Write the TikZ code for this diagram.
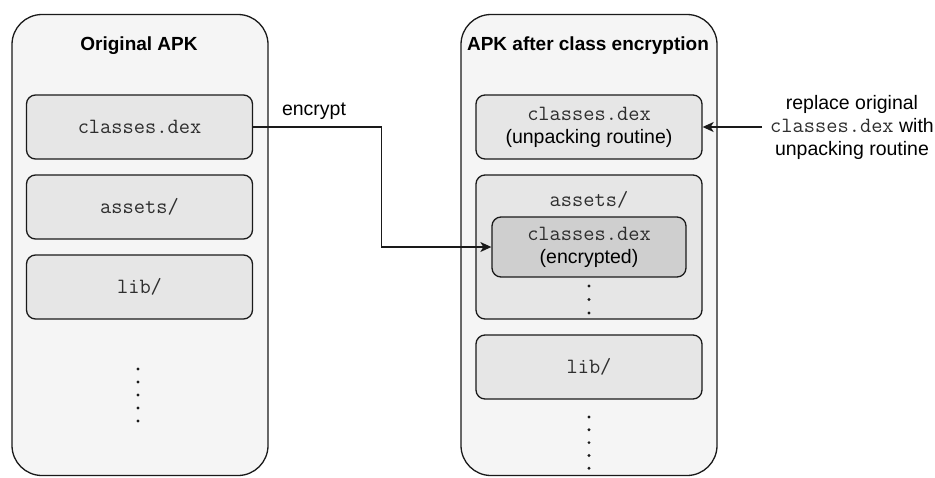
\documentclass[tikz,border=0pt]{standalone}
\usepackage{fontspec}
\setmainfont{Liberation Sans}
\usetikzlibrary{arrows.meta}
\definecolor{panelfill}{HTML}{F5F5F5}
\definecolor{boxfill}{HTML}{E6E6E6}
\definecolor{encfill}{HTML}{CFCFCF}
\definecolor{ink}{HTML}{1A1A1A}
\definecolor{codeink}{HTML}{2E2E2E}
\newcommand{\code}[1]{{\fontsize{21.8}{23}\selectfont\ttfamily\color{codeink}#1}}
\tikzset{
  panel/.style={draw=ink, line width=1.3pt, fill=panelfill, rounded corners=30pt,
    minimum width=256pt, minimum height=461pt, inner sep=0pt},
  filebox/.style={draw=ink, line width=1.3pt, fill=boxfill, rounded corners=9pt,
    minimum width=226pt, minimum height=64pt, inner sep=0pt, align=center,
    font=\fontsize{19.5}{23}\selectfont},
  encbox/.style={filebox, fill=encfill, minimum width=194pt, minimum height=60pt},
  title/.style={font=\fontsize{19}{23}\selectfont\bfseries},
  plain/.style={font=\fontsize{19.5}{23}\selectfont, align=center},
  flow/.style={draw=ink, line width=1.3pt, -{Stealth[length=11pt,width=10pt,inset=3pt]}},
  dot/.style={circle, fill=ink, inner sep=0pt, minimum size=3.2pt}
}
\begin{document}
\begin{tikzpicture}[x=1pt, y=-1pt]
\useasboundingbox (0,0) rectangle (935,477);

% left panel: the original package
\node[panel] (orig) at (140,245) {};
\node[title] (origtitle) at (139,46) {Original APK};
\node[filebox] (dexA) at (139.5,127) {\code{classes.dex}};
\node[filebox] (assetsA) at (139.5,207) {\code{assets/}};
\node[filebox] (libA) at (139.5,287) {\code{lib/}};
\foreach \i in {0,...,4} \node[dot] (dotA\i) at (138,369+13*\i) {};

% right panel: the package after encryption
\node[panel] (packed) at (589,245) {};
\node[title] (packedtitle) at (588,46) {APK after class encryption};
\node[filebox] (dexB) at (589,127) {\code{classes.dex}\\(unpacking routine)};
\node[filebox, minimum height=144pt] (assetsB) at (589,247) {};
\node[plain] (assetsBlabel) at (589,200) {\code{assets/}};
\node[encbox] (encB) at (589,247) {\code{classes.dex}\\(encrypted)};
\foreach \i in {0,...,2} \node[dot] (dotB\i) at (589,286+13.5*\i) {};
\node[filebox] (libB) at (589,367) {\code{lib/}};
\foreach \i in {0,...,4} \node[dot] (dotC\i) at (589,417+12.8*\i) {};

% encryption step
\draw[flow] (dexA.east) -- ++(128,0) coordinate (bend) |- (encB.west);
\node[plain] (enclabel) at (314,111) {encrypt};

% replacement of the original dex
\node[plain] (replabel) at (852,127) {replace original\\\code{classes.dex} with\\unpacking routine};
\coordinate (repstart) at (762,127);
\draw[flow] (repstart) -- (dexB.east);
\end{tikzpicture}
\end{document}
